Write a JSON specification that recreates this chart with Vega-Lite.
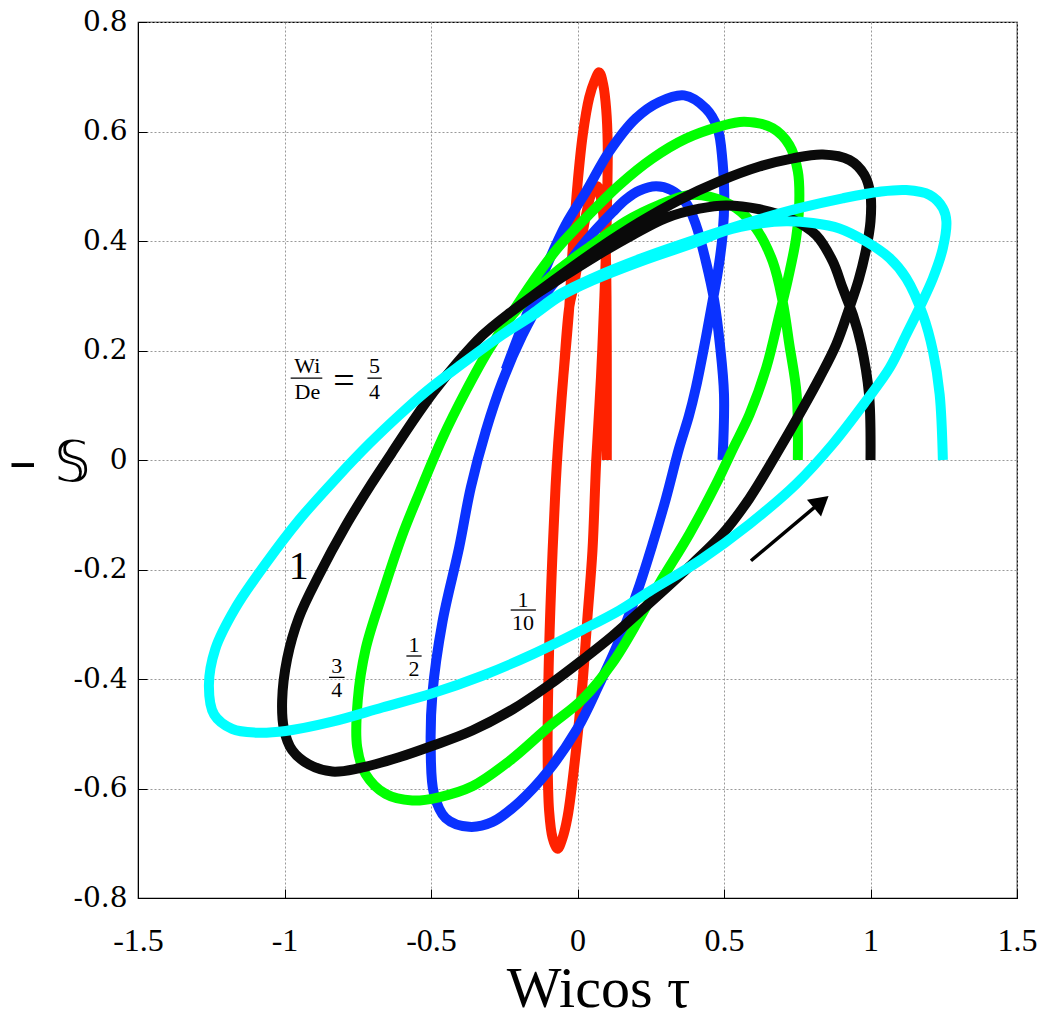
{
"$schema": "https://vega.github.io/schema/vega-lite/v6.json",
"width": 879, "height": 876,
"autosize": "none",
"padding": {"left": 138, "top": 22, "right": 30, "bottom": 123},
"background": "white",
"config": {"view": {"stroke": "black", "strokeWidth": 1.2}},
"datasets": {
"curves": [
{"s":"r","i":0,"x":0.100,"y":0.000},{"s":"r","i":1,"x":0.100,"y":0.150},{"s":"r","i":2,"x":0.099,"y":0.300},{"s":"r","i":3,"x":0.095,"y":0.400},{"s":"r","i":4,"x":0.085,"y":0.460},{"s":"r","i":5,"x":0.068,"y":0.500},{"s":"r","i":6,"x":0.050,"y":0.490},{"s":"r","i":7,"x":0.030,"y":0.450},{"s":"r","i":8,"x":0.010,"y":0.390},{"s":"r","i":9,"x":-0.012,"y":0.320},{"s":"r","i":10,"x":-0.028,"y":0.280},{"s":"r","i":11,"x":-0.048,"y":0.155},{"s":"r","i":12,"x":-0.066,"y":0.030},{"s":"r","i":13,"x":-0.075,"y":-0.050},{"s":"r","i":14,"x":-0.085,"y":-0.166},{"s":"r","i":15,"x":-0.097,"y":-0.348},{"s":"r","i":16,"x":-0.102,"y":-0.530},{"s":"r","i":17,"x":-0.097,"y":-0.640},{"s":"r","i":18,"x":-0.085,"y":-0.690},{"s":"r","i":19,"x":-0.068,"y":-0.710},{"s":"r","i":20,"x":-0.052,"y":-0.692},{"s":"r","i":21,"x":-0.034,"y":-0.652},{"s":"r","i":22,"x":-0.005,"y":-0.530},{"s":"r","i":23,"x":0.017,"y":-0.409},{"s":"r","i":24,"x":0.034,"y":-0.287},{"s":"r","i":25,"x":0.051,"y":-0.166},{"s":"r","i":26,"x":0.064,"y":0.000},{"s":"r","i":27,"x":0.080,"y":0.150},{"s":"r","i":28,"x":0.092,"y":0.300},{"s":"r","i":29,"x":0.098,"y":0.400},{"s":"r","i":30,"x":0.102,"y":0.500},{"s":"r","i":31,"x":0.103,"y":0.580},{"s":"r","i":32,"x":0.098,"y":0.640},{"s":"r","i":33,"x":0.088,"y":0.685},{"s":"r","i":34,"x":0.074,"y":0.708},{"s":"r","i":35,"x":0.058,"y":0.692},{"s":"r","i":36,"x":0.040,"y":0.662},{"s":"r","i":37,"x":0.018,"y":0.594},{"s":"r","i":38,"x":0.000,"y":0.503},{"s":"r","i":39,"x":-0.017,"y":0.381},{"s":"r","i":40,"x":-0.028,"y":0.280},{"s":"r","i":41,"x":-0.048,"y":0.155},

{"s":"b","i":0,"x":0.495,"y":0.000},{"s":"b","i":1,"x":0.500,"y":0.120},{"s":"b","i":2,"x":0.486,"y":0.211},{"s":"b","i":3,"x":0.467,"y":0.290},{"s":"b","i":4,"x":0.438,"y":0.363},{"s":"b","i":5,"x":0.404,"y":0.430},{"s":"b","i":6,"x":0.370,"y":0.470},{"s":"b","i":7,"x":0.320,"y":0.493},{"s":"b","i":8,"x":0.268,"y":0.500},{"s":"b","i":9,"x":0.211,"y":0.492},{"s":"b","i":10,"x":0.165,"y":0.476},{"s":"b","i":11,"x":0.120,"y":0.453},{"s":"b","i":12,"x":0.065,"y":0.422},{"s":"b","i":13,"x":0.006,"y":0.385},{"s":"b","i":14,"x":-0.063,"y":0.335},{"s":"b","i":15,"x":-0.119,"y":0.295},{"s":"b","i":16,"x":-0.188,"y":0.228},{"s":"b","i":17,"x":-0.256,"y":0.144},{"s":"b","i":18,"x":-0.313,"y":0.053},{"s":"b","i":19,"x":-0.364,"y":-0.050},{"s":"b","i":20,"x":-0.404,"y":-0.160},{"s":"b","i":21,"x":-0.461,"y":-0.296},{"s":"b","i":22,"x":-0.495,"y":-0.426},{"s":"b","i":23,"x":-0.501,"y":-0.524},{"s":"b","i":24,"x":-0.490,"y":-0.609},{"s":"b","i":25,"x":-0.450,"y":-0.654},{"s":"b","i":26,"x":-0.370,"y":-0.670},{"s":"b","i":27,"x":-0.290,"y":-0.661},{"s":"b","i":28,"x":-0.199,"y":-0.625},{"s":"b","i":29,"x":-0.100,"y":-0.568},{"s":"b","i":30,"x":0.000,"y":-0.490},{"s":"b","i":31,"x":0.074,"y":-0.410},{"s":"b","i":32,"x":0.142,"y":-0.330},{"s":"b","i":33,"x":0.211,"y":-0.230},{"s":"b","i":34,"x":0.256,"y":-0.154},{"s":"b","i":35,"x":0.302,"y":-0.070},{"s":"b","i":36,"x":0.347,"y":0.022},{"s":"b","i":37,"x":0.380,"y":0.080},{"s":"b","i":38,"x":0.404,"y":0.132},{"s":"b","i":39,"x":0.438,"y":0.223},{"s":"b","i":40,"x":0.461,"y":0.290},{"s":"b","i":41,"x":0.478,"y":0.340},{"s":"b","i":42,"x":0.495,"y":0.410},{"s":"b","i":43,"x":0.501,"y":0.484},{"s":"b","i":44,"x":0.495,"y":0.545},{"s":"b","i":45,"x":0.478,"y":0.606},{"s":"b","i":46,"x":0.438,"y":0.642},{"s":"b","i":47,"x":0.364,"y":0.666},{"s":"b","i":48,"x":0.279,"y":0.654},{"s":"b","i":49,"x":0.199,"y":0.624},{"s":"b","i":50,"x":0.108,"y":0.563},{"s":"b","i":51,"x":0.029,"y":0.490},{"s":"b","i":52,"x":-0.040,"y":0.430},{"s":"b","i":53,"x":-0.108,"y":0.351},{"s":"b","i":54,"x":-0.176,"y":0.262},{"s":"b","i":55,"x":-0.245,"y":0.165},

{"s":"g","i":0,"x":0.752,"y":0.000},{"s":"g","i":1,"x":0.748,"y":0.120},{"s":"g","i":2,"x":0.723,"y":0.211},{"s":"g","i":3,"x":0.700,"y":0.290},{"s":"g","i":4,"x":0.666,"y":0.363},{"s":"g","i":5,"x":0.609,"y":0.423},{"s":"g","i":6,"x":0.541,"y":0.460},{"s":"g","i":7,"x":0.450,"y":0.481},{"s":"g","i":8,"x":0.382,"y":0.484},{"s":"g","i":9,"x":0.279,"y":0.466},{"s":"g","i":10,"x":0.165,"y":0.436},{"s":"g","i":11,"x":0.051,"y":0.393},{"s":"g","i":12,"x":-0.063,"y":0.348},{"s":"g","i":13,"x":-0.140,"y":0.310},{"s":"g","i":14,"x":-0.222,"y":0.265},{"s":"g","i":15,"x":-0.301,"y":0.203},{"s":"g","i":16,"x":-0.381,"y":0.126},{"s":"g","i":17,"x":-0.460,"y":0.041},{"s":"g","i":18,"x":-0.540,"y":-0.060},{"s":"g","i":19,"x":-0.600,"y":-0.140},{"s":"g","i":20,"x":-0.666,"y":-0.245},{"s":"g","i":21,"x":-0.723,"y":-0.345},{"s":"g","i":22,"x":-0.750,"y":-0.439},{"s":"g","i":23,"x":-0.752,"y":-0.524},{"s":"g","i":24,"x":-0.723,"y":-0.574},{"s":"g","i":25,"x":-0.655,"y":-0.610},{"s":"g","i":26,"x":-0.564,"y":-0.622},{"s":"g","i":27,"x":-0.473,"y":-0.616},{"s":"g","i":28,"x":-0.359,"y":-0.596},{"s":"g","i":29,"x":-0.233,"y":-0.550},{"s":"g","i":30,"x":-0.097,"y":-0.487},{"s":"g","i":31,"x":0.017,"y":-0.437},{"s":"g","i":32,"x":0.120,"y":-0.370},{"s":"g","i":33,"x":0.211,"y":-0.290},{"s":"g","i":34,"x":0.280,"y":-0.225},{"s":"g","i":35,"x":0.382,"y":-0.135},{"s":"g","i":36,"x":0.473,"y":-0.044},{"s":"g","i":37,"x":0.530,"y":0.020},{"s":"g","i":38,"x":0.587,"y":0.083},{"s":"g","i":39,"x":0.644,"y":0.168},{"s":"g","i":40,"x":0.689,"y":0.265},{"s":"g","i":41,"x":0.718,"y":0.330},{"s":"g","i":42,"x":0.746,"y":0.405},{"s":"g","i":43,"x":0.757,"y":0.472},{"s":"g","i":44,"x":0.752,"y":0.527},{"s":"g","i":45,"x":0.723,"y":0.575},{"s":"g","i":46,"x":0.666,"y":0.606},{"s":"g","i":47,"x":0.569,"y":0.618},{"s":"g","i":48,"x":0.484,"y":0.609},{"s":"g","i":49,"x":0.370,"y":0.587},{"s":"g","i":50,"x":0.256,"y":0.551},{"s":"g","i":51,"x":0.142,"y":0.502},{"s":"g","i":52,"x":0.028,"y":0.442},{"s":"g","i":53,"x":-0.063,"y":0.390},{"s":"g","i":54,"x":-0.130,"y":0.343},{"s":"g","i":55,"x":-0.210,"y":0.280},{"s":"g","i":56,"x":-0.290,"y":0.212},

{"s":"k","i":0,"x":1.000,"y":0.000},{"s":"k","i":1,"x":0.995,"y":0.120},{"s":"k","i":2,"x":0.968,"y":0.211},{"s":"k","i":3,"x":0.940,"y":0.265},{"s":"k","i":4,"x":0.905,"y":0.314},{"s":"k","i":5,"x":0.871,"y":0.363},{"s":"k","i":6,"x":0.814,"y":0.411},{"s":"k","i":7,"x":0.735,"y":0.439},{"s":"k","i":8,"x":0.621,"y":0.458},{"s":"k","i":9,"x":0.507,"y":0.465},{"s":"k","i":10,"x":0.416,"y":0.459},{"s":"k","i":11,"x":0.302,"y":0.442},{"s":"k","i":12,"x":0.188,"y":0.411},{"s":"k","i":13,"x":0.074,"y":0.376},{"s":"k","i":14,"x":-0.063,"y":0.330},{"s":"k","i":15,"x":-0.150,"y":0.300},{"s":"k","i":16,"x":-0.233,"y":0.268},{"s":"k","i":17,"x":-0.324,"y":0.228},{"s":"k","i":18,"x":-0.415,"y":0.175},{"s":"k","i":19,"x":-0.490,"y":0.125},{"s":"k","i":20,"x":-0.563,"y":0.070},{"s":"k","i":21,"x":-0.635,"y":0.012},{"s":"k","i":22,"x":-0.705,"y":-0.045},{"s":"k","i":23,"x":-0.791,"y":-0.120},{"s":"k","i":24,"x":-0.882,"y":-0.210},{"s":"k","i":25,"x":-0.951,"y":-0.288},{"s":"k","i":26,"x":-0.991,"y":-0.363},{"s":"k","i":27,"x":-1.008,"y":-0.439},{"s":"k","i":28,"x":-1.002,"y":-0.491},{"s":"k","i":29,"x":-0.974,"y":-0.530},{"s":"k","i":30,"x":-0.917,"y":-0.556},{"s":"k","i":31,"x":-0.837,"y":-0.569},{"s":"k","i":32,"x":-0.746,"y":-0.563},{"s":"k","i":33,"x":-0.609,"y":-0.543},{"s":"k","i":34,"x":-0.495,"y":-0.522},{"s":"k","i":35,"x":-0.359,"y":-0.494},{"s":"k","i":36,"x":-0.220,"y":-0.455},{"s":"k","i":37,"x":-0.097,"y":-0.411},{"s":"k","i":38,"x":0.017,"y":-0.365},{"s":"k","i":39,"x":0.120,"y":-0.321},{"s":"k","i":40,"x":0.211,"y":-0.278},{"s":"k","i":41,"x":0.359,"y":-0.206},{"s":"k","i":42,"x":0.495,"y":-0.135},{"s":"k","i":43,"x":0.587,"y":-0.070},{"s":"k","i":44,"x":0.678,"y":0.010},{"s":"k","i":45,"x":0.757,"y":0.083},{"s":"k","i":46,"x":0.826,"y":0.150},{"s":"k","i":47,"x":0.883,"y":0.211},{"s":"k","i":48,"x":0.928,"y":0.278},{"s":"k","i":49,"x":0.960,"y":0.330},{"s":"k","i":50,"x":0.985,"y":0.385},{"s":"k","i":51,"x":1.000,"y":0.436},{"s":"k","i":52,"x":1.000,"y":0.484},{"s":"k","i":53,"x":0.979,"y":0.521},{"s":"k","i":54,"x":0.928,"y":0.548},{"s":"k","i":55,"x":0.837,"y":0.558},{"s":"k","i":56,"x":0.735,"y":0.551},{"s":"k","i":57,"x":0.621,"y":0.536},{"s":"k","i":58,"x":0.484,"y":0.509},{"s":"k","i":59,"x":0.347,"y":0.475},{"s":"k","i":60,"x":0.211,"y":0.434},{"s":"k","i":61,"x":0.074,"y":0.387},{"s":"k","i":62,"x":-0.063,"y":0.335},{"s":"k","i":63,"x":-0.200,"y":0.281},

{"s":"c","i":0,"x":1.247,"y":0.000},{"s":"c","i":1,"x":1.236,"y":0.120},{"s":"c","i":2,"x":1.213,"y":0.199},{"s":"c","i":3,"x":1.179,"y":0.265},{"s":"c","i":4,"x":1.122,"y":0.332},{"s":"c","i":5,"x":1.065,"y":0.369},{"s":"c","i":6,"x":0.985,"y":0.399},{"s":"c","i":7,"x":0.894,"y":0.423},{"s":"c","i":8,"x":0.803,"y":0.433},{"s":"c","i":9,"x":0.712,"y":0.436},{"s":"c","i":10,"x":0.621,"y":0.432},{"s":"c","i":11,"x":0.500,"y":0.418},{"s":"c","i":12,"x":0.416,"y":0.400},{"s":"c","i":13,"x":0.222,"y":0.364},{"s":"c","i":14,"x":0.051,"y":0.328},{"s":"c","i":15,"x":-0.063,"y":0.298},{"s":"c","i":16,"x":-0.150,"y":0.265},{"s":"c","i":17,"x":-0.267,"y":0.225},{"s":"c","i":18,"x":-0.403,"y":0.172},{"s":"c","i":19,"x":-0.517,"y":0.125},{"s":"c","i":20,"x":-0.608,"y":0.082},{"s":"c","i":21,"x":-0.710,"y":0.030},{"s":"c","i":22,"x":-0.814,"y":-0.028},{"s":"c","i":23,"x":-0.951,"y":-0.110},{"s":"c","i":24,"x":-1.065,"y":-0.190},{"s":"c","i":25,"x":-1.167,"y":-0.270},{"s":"c","i":26,"x":-1.236,"y":-0.345},{"s":"c","i":27,"x":-1.258,"y":-0.413},{"s":"c","i":28,"x":-1.240,"y":-0.465},{"s":"c","i":29,"x":-1.179,"y":-0.491},{"s":"c","i":30,"x":-1.099,"y":-0.498},{"s":"c","i":31,"x":-0.996,"y":-0.495},{"s":"c","i":32,"x":-0.837,"y":-0.478},{"s":"c","i":33,"x":-0.666,"y":-0.452},{"s":"c","i":34,"x":-0.495,"y":-0.426},{"s":"c","i":35,"x":-0.325,"y":-0.394},{"s":"c","i":36,"x":-0.154,"y":-0.355},{"s":"c","i":37,"x":0.017,"y":-0.310},{"s":"c","i":38,"x":0.142,"y":-0.275},{"s":"c","i":39,"x":0.245,"y":-0.240},{"s":"c","i":40,"x":0.416,"y":-0.184},{"s":"c","i":41,"x":0.587,"y":-0.117},{"s":"c","i":42,"x":0.746,"y":-0.044},{"s":"c","i":43,"x":0.871,"y":0.029},{"s":"c","i":44,"x":0.985,"y":0.108},{"s":"c","i":45,"x":1.065,"y":0.168},{"s":"c","i":46,"x":1.122,"y":0.229},{"s":"c","i":47,"x":1.167,"y":0.278},{"s":"c","i":48,"x":1.213,"y":0.332},{"s":"c","i":49,"x":1.247,"y":0.387},{"s":"c","i":50,"x":1.259,"y":0.436},{"s":"c","i":51,"x":1.247,"y":0.460},{"s":"c","i":52,"x":1.202,"y":0.484},{"s":"c","i":53,"x":1.122,"y":0.493},{"s":"c","i":54,"x":1.031,"y":0.490},{"s":"c","i":55,"x":0.905,"y":0.478},{"s":"c","i":56,"x":0.757,"y":0.460},{"s":"c","i":57,"x":0.598,"y":0.436},{"s":"c","i":58,"x":0.416,"y":0.405},{"s":"c","i":59,"x":0.222,"y":0.369},{"s":"c","i":60,"x":0.051,"y":0.332},{"s":"c","i":61,"x":-0.063,"y":0.302},{"s":"c","i":62,"x":-0.154,"y":0.267},{"s":"c","i":63,"x":-0.267,"y":0.225}
],
"small": [
{"t":"Wi","x":-0.922,"y":0.171},{"t":"De","x":-0.922,"y":0.124},{"t":"5","x":-0.693,"y":0.171},{"t":"4","x":-0.693,"y":0.124},
{"t":"3","x":-0.822,"y":-0.377},{"t":"4","x":-0.822,"y":-0.420},
{"t":"1","x":-0.558,"y":-0.338},{"t":"2","x":-0.558,"y":-0.381},
{"t":"1","x":-0.186,"y":-0.255},{"t":"10","x":-0.186,"y":-0.297}
],
"eq": [{"t":"=","x":-0.797,"y":0.143}],
"big": [{"t":"1","x":-0.951,"y":-0.195}],
"bars": [
{"x1":-0.979,"x2":-0.871,"y":0.1495},{"x1":-0.717,"x2":-0.668,"y":0.1495},{"x1":-0.848,"x2":-0.795,"y":-0.397},{"x1":-0.584,"x2":-0.532,"y":-0.358},{"x1":-0.228,"x2":-0.142,"y":-0.274}
],
"arrow": [{"x1":0.592,"y1":-0.184,"x2":0.830,"y2":-0.077}],
"head": [{"x":0.832,"y":-0.0767}]
},
"layer": [
{"data": {"name": "curves"},
 "mark": {"type": "line", "strokeWidth": 10, "strokeCap": "butt", "strokeJoin": "round", "interpolate": "catmull-rom"},
 "encoding": {
  "x": {"field": "x", "type": "quantitative",
   "scale": {"domain": [-1.5, 1.5], "nice": false, "zero": false},
   "axis": {"values": [-1.5, -1, -0.5, 0, 0.5, 1, 1.5], "labelExpr": "datum.value + ''",
    "labelFont": "Liberation Serif", "labelFontSize": 32, "labelColor": "black",
    "tickColor": "black", "tickSize": -9, "tickWidth": 1, "domainColor": "black",
    "gridColor": "#999999", "gridDash": [2, 2], "gridWidth": 1, "labelPadding": 36,
    "title": "Wicos τ", "titleFont": "Liberation Serif", "titleFontSize": 58, "titleFontWeight": "normal", "titleColor": "black",
    "titleX": 460, "titleY": 108, "titleAlign": "center", "titleBaseline": "alphabetic", "labelFlush": false}},
  "y": {"field": "y", "type": "quantitative",
   "scale": {"domain": [-0.8, 0.8], "nice": false, "zero": false},
   "axis": {"values": [-0.8, -0.6, -0.4, -0.2, 0, 0.2, 0.4, 0.6, 0.8], "labelExpr": "datum.value + ''",
    "labelFont": "DejaVu Serif", "labelFontSize": 28, "labelColor": "black",
    "tickColor": "black", "tickSize": -9, "tickWidth": 1, "domainColor": "black",
    "gridColor": "#999999", "gridDash": [2, 2], "gridWidth": 1, "labelPadding": 20, "labelFlush": false,
    "title": "– 𝕊", "titleFont": "DejaVu Sans", "titleFontSize": 56, "titleFontWeight": "normal", "titleColor": "black",
    "titleAngle": 0, "titleX": -89, "titleY": 440, "titleAlign": "center", "titleBaseline": "middle"}},
  "color": {"field": "s", "type": "nominal", "legend": null,
   "scale": {"domain": ["r", "b", "g", "k", "c"], "range": ["#ff2200", "#0a32ff", "#00ff00", "#0a0a0a", "#00ffff"]}},
  "order": {"field": "i", "type": "quantitative"}
 }},
{"data": {"name": "small"},
 "mark": {"type": "text", "font": "Liberation Serif", "fontSize": 22, "color": "black", "align": "center", "baseline": "middle"},
 "encoding": {"x": {"field": "x", "type": "quantitative"}, "y": {"field": "y", "type": "quantitative"}, "text": {"field": "t"}}},
{"data": {"name": "eq"},
 "mark": {"type": "text", "font": "Liberation Serif", "fontSize": 38, "color": "black", "align": "center", "baseline": "middle"},
 "encoding": {"x": {"field": "x", "type": "quantitative"}, "y": {"field": "y", "type": "quantitative"}, "text": {"field": "t"}}},
{"data": {"name": "big"},
 "mark": {"type": "text", "font": "Liberation Serif", "fontSize": 40, "color": "black", "align": "center", "baseline": "middle"},
 "encoding": {"x": {"field": "x", "type": "quantitative"}, "y": {"field": "y", "type": "quantitative"}, "text": {"field": "t"}}},
{"data": {"name": "bars"},
 "mark": {"type": "rule", "color": "black", "strokeWidth": 1.3},
 "encoding": {"x": {"field": "x1", "type": "quantitative"}, "x2": {"field": "x2"}, "y": {"field": "y", "type": "quantitative"}}},
{"data": {"name": "arrow"},
 "mark": {"type": "rule", "color": "black", "strokeWidth": 3.5},
 "encoding": {"x": {"field": "x1", "type": "quantitative"}, "x2": {"field": "x2"}, "y": {"field": "y1", "type": "quantitative"}, "y2": {"field": "y2"}}},
{"data": {"name": "head"},
 "mark": {"type": "point", "shape": "triangle-right", "filled": true, "color": "black", "size": 480, "angle": 320, "opacity": 1},
 "encoding": {"x": {"field": "x", "type": "quantitative"}, "y": {"field": "y", "type": "quantitative"}}}
]
}
